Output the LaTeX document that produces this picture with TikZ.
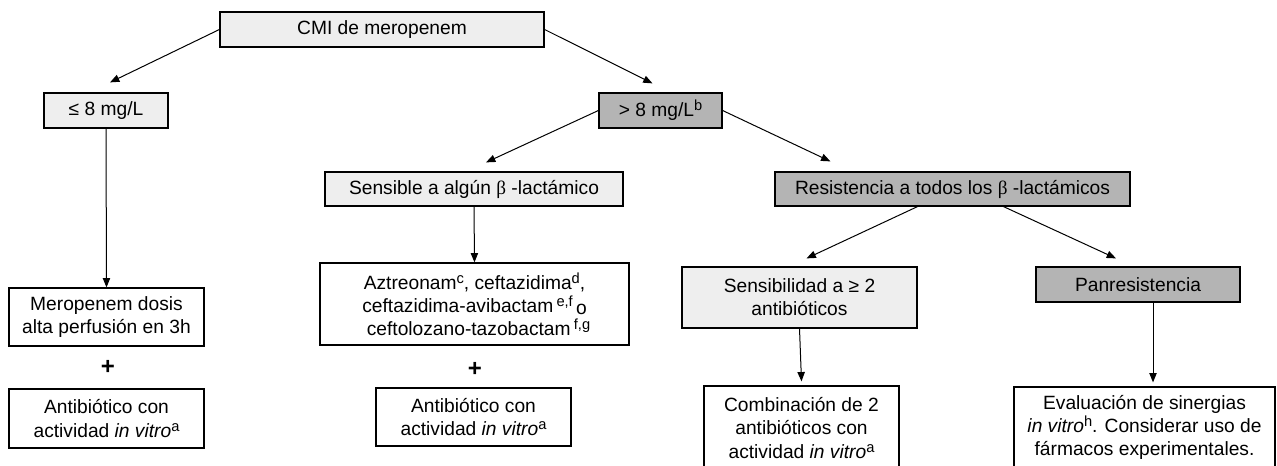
\documentclass[tikz,border=0pt]{standalone}
\usepackage{fontspec}
\setmainfont{Liberation Sans}
\newfontfamily\greekfont{Liberation Serif}
\usetikzlibrary{arrows.meta,calc}
\definecolor{lightbox}{HTML}{EEEEEE}
\definecolor{darkbox}{HTML}{B4B4B4}
\newcommand{\bet}{{\greekfont β}}
\newcommand{\sps}[1]{\raisebox{4.5pt}{\fontsize{11}{11}\selectfont #1}}
\newcommand{\iv}{\textit{in vitro}}
\begin{document}
\begin{tikzpicture}[x=0.75pt,y=-0.75pt,
  box/.style={draw, line width=0.9pt, inner sep=0pt, align=center,
    font=\fontsize{14.4}{17.3}\selectfont},
  lbox/.style={box, fill=lightbox},
  dbox/.style={box, fill=darkbox},
  wbox/.style={box, fill=white},
  plus/.style={inner sep=0pt, font=\fontsize{18}{18}\selectfont\bfseries},
  arr/.style={line width=0.75pt, -{Triangle[length=7pt,width=5.5pt]}}
]
\fill[white] (0,0) rectangle (1277,466);
\useasboundingbox (0,0) rectangle (1277,466);
\clip (0,0) rectangle (1277,466);

% top level
\node[lbox, minimum width=324*0.75pt, minimum height=35*0.75pt] (cmi) at (382,29.5) {CMI de meropenem};
\node[lbox, minimum width=124*0.75pt, minimum height=35*0.75pt] (le8) at (106,110.5) {≤ 8 mg/L};
\node[dbox, minimum width=123*0.75pt, minimum height=35*0.75pt] (gt8) at (660.5,110.5) {> 8 mg/L\sps{b}};

% left branch
\node[wbox, minimum width=195*0.75pt, minimum height=58*0.75pt] (merop) at (106.5,317) {Meropenem dosis\\alta perfusión en 3h};
\node[plus] (plusA) at (108,367) {+};
\node[wbox, minimum width=195*0.75pt, minimum height=59*0.75pt] (antiA) at (106.5,418.5) {Antibiótico con\\actividad \iv\sps{a}};

% middle branch
\node[lbox, minimum width=298*0.75pt, minimum height=34*0.75pt] (sens) at (474,189) {Sensible a algún \bet\ -lactámico};
\node[wbox, minimum width=309*0.75pt, minimum height=82*0.75pt] (azt) at (474.5,304)
  {Aztreonam\sps{c}, ceftazidima\sps{d},\\
   ceftazidima-avibactam\,\sps{e,f}\,\raisebox{-1.5pt}{o}\\
   \hspace*{6pt}ceftolozano-tazobactam\,\sps{f,g}};
\node[plus] (plusB) at (475,369) {+};
\node[wbox, minimum width=195*0.75pt, minimum height=58*0.75pt] (antiB) at (473.5,417) {Antibiótico con\\actividad \iv\sps{a}};

% right branch
\node[dbox, minimum width=355*0.75pt, minimum height=34*0.75pt] (res) at (952.5,189) {Resistencia a todos los \bet\ -lactámicos};
\node[lbox, minimum width=235*0.75pt, minimum height=61*0.75pt] (sensib) at (799.5,297.5) {Sensibilidad a ≥ 2\\antibióticos};
\node[dbox, minimum width=204*0.75pt, minimum height=35*0.75pt] (panres) at (1138,284.5) {Panresistencia};
\node[wbox, minimum width=195*0.75pt, minimum height=84*0.75pt] (comb) at (801.5,428) {Combinación de 2\\antibióticos con\\actividad \iv\sps{a}};
\node[wbox, minimum width=261*0.75pt, minimum height=80*0.75pt] (eval) at (1144.5,427) {Evaluación de sinergias\\\iv\sps{h}. Considerar uso de\\fármacos experimentales.};

% connectors
\draw[arr] (cmi.west) -- ($(le8.north)+(4,-10)$);
\draw[arr] (cmi.east) -- ($(gt8.north)+(-8,-9)$);
\draw[arr] (le8.south) -- (merop.north);
\draw[arr] (gt8.west) -- ($(sens.north)+(12,-9)$);
\draw[arr] (gt8.east) -- ($(res.north west)+(56,-10)$);
\draw[arr] (sens.south) -- (azt.north);
\draw[arr] ($(res.south)+(-35,0)$) -- ($(sensib.north)+(7,-8)$);
\draw[arr] ($(res.south)+(51,0)$) -- ($(panres.north)+(-22,-8)$);
\draw[arr] (sensib.south) -- ($(comb.north)+(0,-4)$);
\coordinate (pe) at ($(panres.south)+(15,0)$);
\draw[arr, shorten >=3pt] (pe) -- (pe |- eval.north);
\end{tikzpicture}
\end{document}
